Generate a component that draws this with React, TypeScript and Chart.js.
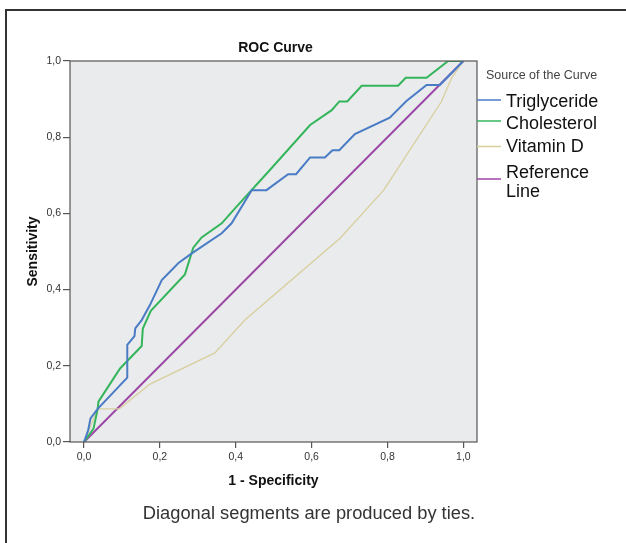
import React, { useEffect, useRef } from "react";
import { Chart, registerables } from "chart.js";

Chart.register(...registerables);

const xTickValues = [0, 0.2, 0.4, 0.6, 0.8, 1.0];
const yTickValues = [0, 0.2, 0.4, 0.6, 0.8, 1.0];
const seriesNames = ["Triglyceride", "Cholesterol", "Vitamin D", "Reference Line"];

const triglycerideFpr = [0, 0.011, 0.017, 0.036, 0.114, 0.114, 0.133, 0.135, 0.152, 0.174, 0.205, 0.249, 0.284, 0.363, 0.389, 0.442, 0.481, 0.538, 0.559, 0.596, 0.635, 0.655, 0.673, 0.714, 0.806, 0.85, 0.903, 0.938, 1.0];
const triglycerideTpr = [0, 0.031, 0.062, 0.087, 0.169, 0.255, 0.278, 0.298, 0.32, 0.36, 0.425, 0.47, 0.495, 0.548, 0.574, 0.661, 0.661, 0.703, 0.703, 0.747, 0.747, 0.766, 0.766, 0.808, 0.851, 0.895, 0.937, 0.937, 1.0];

const cholesterolFpr = [0, 0.025, 0.036, 0.038, 0.095, 0.152, 0.155, 0.176, 0.266, 0.288, 0.31, 0.363, 0.398, 0.49, 0.596, 0.653, 0.673, 0.694, 0.732, 0.828, 0.848, 0.903, 0.96, 1.0];
const cholesterolTpr = [0, 0.035, 0.087, 0.106, 0.193, 0.252, 0.298, 0.344, 0.44, 0.51, 0.537, 0.574, 0.613, 0.714, 0.832, 0.871, 0.894, 0.894, 0.935, 0.935, 0.956, 0.956, 1.0, 1.0];

const vitaminDFpr = [0, 0.036, 0.093, 0.174, 0.345, 0.424, 0.675, 0.79, 0.942, 0.969, 1.0];
const vitaminDTpr = [0, 0.087, 0.087, 0.152, 0.234, 0.32, 0.535, 0.661, 0.893, 0.955, 1.0];

const referenceFpr = [0, 1];
const referenceTpr = [0, 1];

const seriesColors = ["#4a7cc6", "#34b55c", "#d9cf9e", "#9c46a6"];
const seriesWidths = [2, 2, 1.3, 2];

const FONT = '"Liberation Sans", Arial, sans-serif';

const toPoints = (xs: number[], ys: number[]) => xs.map((x, i) => ({ x, y: ys[i] }));
const fmt = (v: number) => v.toFixed(1).replace(".", ",");

const decorPlugin = {
  id: "decor",
  beforeDraw(chart: any) {
    const { ctx, chartArea: a } = chart;
    ctx.save();
    ctx.fillStyle = "#ffffff";
    ctx.fillRect(0, 0, chart.width, chart.height);
    ctx.fillStyle = "#e9ebec";
    ctx.fillRect(a.left, a.top, a.right - a.left, a.bottom - a.top);
    ctx.restore();
  },
  afterDraw(chart: any) {
    const { ctx, chartArea: a } = chart;
    ctx.save();
    ctx.strokeStyle = "#555555";
    ctx.lineWidth = 1.2;
    ctx.strokeRect(a.left, a.top, a.right - a.left, a.bottom - a.top);
    ctx.strokeStyle = "#333333";
    ctx.lineWidth = 2;
    ctx.beginPath();
    ctx.moveTo(6, chart.height + 2);
    ctx.lineTo(6, 10);
    ctx.lineTo(chart.width + 2, 10);
    ctx.stroke();

    ctx.fillStyle = "#111111";
    ctx.textAlign = "center";
    ctx.textBaseline = "middle";
    ctx.font = `bold 14px ${FONT}`;
    ctx.fillText("ROC Curve", (a.left + a.right) / 2 + 2, 48);
    ctx.fillText("1 - Specificity", (a.left + a.right) / 2, 481);
    ctx.save();
    ctx.translate(33, (a.top + a.bottom) / 2);
    ctx.rotate(-Math.PI / 2);
    ctx.fillText("Sensitivity", 0, 0);
    ctx.restore();

    ctx.fillStyle = "#333333";
    ctx.font = `18.3px ${FONT}`;
    ctx.fillText("Diagonal segments are produced by ties.", 309, 514);

    ctx.textAlign = "left";
    ctx.fillStyle = "#444444";
    ctx.font = `12.5px ${FONT}`;
    ctx.fillText("Source of the Curve", 486, 76);
    const lineYs = [100, 121, 146.5, 179];
    const textYs = [[102], [124], [147], [173, 192]];
    const labels = [["Triglyceride"], ["Cholesterol"], ["Vitamin D"], ["Reference", "Line"]];
    ctx.font = `18px ${FONT}`;
    for (let i = 0; i < seriesNames.length; i++) {
      ctx.strokeStyle = seriesColors[i];
      ctx.lineWidth = 1.5;
      ctx.beginPath();
      ctx.moveTo(a.right, lineYs[i]);
      ctx.lineTo(501, lineYs[i]);
      ctx.stroke();
      ctx.fillStyle = "#111111";
      labels[i].forEach((t, j) => ctx.fillText(t, 506, textYs[i][j]));
    }
    ctx.restore();
  },
};

export default function App() {
  const ref = useRef<HTMLCanvasElement | null>(null);
  useEffect(() => {
    if (!ref.current) return;
    const datasets = [
      toPoints(triglycerideFpr, triglycerideTpr),
      toPoints(cholesterolFpr, cholesterolTpr),
      toPoints(vitaminDFpr, vitaminDTpr),
      toPoints(referenceFpr, referenceTpr),
    ].map((data, i) => ({
      label: seriesNames[i],
      data,
      showLine: true,
      borderColor: seriesColors[i],
      backgroundColor: seriesColors[i],
      borderWidth: seriesWidths[i],
      pointRadius: 0,
      tension: 0,
      fill: false,
    }));
    const tickFont = { family: FONT, size: 10.5 };
    const chart = new Chart(ref.current, {
      type: "scatter",
      data: { datasets },
      options: {
        animation: false,
        responsive: false,
        devicePixelRatio: 1,
        layout: { padding: { top: 61, right: 149, bottom: 71, left: 0 } },
        plugins: { legend: { display: false }, tooltip: { enabled: false }, title: { display: false } },
        scales: {
          x: {
            type: "linear",
            min: -0.037,
            max: 1.036,
            afterBuildTicks: (s: any) => { s.ticks = xTickValues.map((v) => ({ value: v })); },
            afterFit: (s: any) => { s.height = 30; },
            ticks: { callback: (v: any) => fmt(Number(v)), font: tickFont, color: "#333333", padding: 3, maxRotation: 0, autoSkip: false },
            grid: { drawOnChartArea: false, tickLength: 6, color: "#555555", lineWidth: 1.2 },
            border: { display: false },
          },
          y: {
            type: "linear",
            min: 0,
            max: 1,
            afterBuildTicks: (s: any) => { s.ticks = yTickValues.map((v) => ({ value: v })); },
            afterFit: (s: any) => { s.width = 70; },
            ticks: { callback: (v: any) => fmt(Number(v)), font: tickFont, color: "#333333", padding: 2, autoSkip: false },
            grid: { drawOnChartArea: false, tickLength: 7, color: "#555555", lineWidth: 1.2 },
            border: { display: false },
          },
        },
      },
      plugins: [decorPlugin],
    } as any);
    return () => chart.destroy();
  }, []);
  return (
    <div style={{ position: "absolute", left: 0, top: 0, width: 626, height: 543, background: "#fff" }}>
      <canvas ref={ref} width={626} height={543} style={{ display: "block" }} />
    </div>
  );
}
